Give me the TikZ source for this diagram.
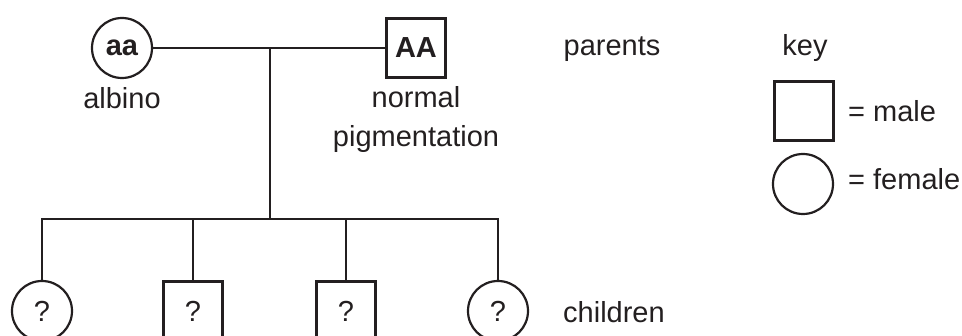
\documentclass[tikz,border=0pt]{standalone}
\usepackage{fontspec}
\setmainfont{Liberation Sans}
\usepackage{xcolor}
\usepackage{tikz}
\usetikzlibrary{positioning}
\definecolor{inkDark}{RGB}{35,31,32}
\tikzset{
  female/.style={circle, draw=inkDark, line width=2.2pt, minimum size=60pt, inner sep=0pt},
  male/.style={rectangle, draw=inkDark, line width=2.2pt, minimum size=59pt, inner sep=0pt},
  label/.style={text=inkDark, inner sep=0pt},
  link/.style={draw=inkDark, line width=2.2pt}
}

\begin{document}
\begin{tikzpicture}[x=1pt, y=-1pt,
          every node/.style={font=\fontsize{29}{35}\selectfont, text=inkDark}]
        \useasboundingbox (0,0) rectangle (962,336);
        % parents
        \node[female] (mum) at (122,48)  {\textbf{aa}};
        \node[male]   (dad) at (416,48)  {\textbf{AA}};
        \node[label, anchor=base] (albino)  at (122,109) {albino};
        \node[label, anchor=base] (normal)  at (416,108) {normal};
        \node[label, anchor=base] (pigment) at (416,147) {pigmentation};
        % children
        \node[female] (c1) at (42,311)  {?};
        \node[male]   (c2) at (193,311) {?};
        \node[male]   (c3) at (346,311) {?};
        \node[female] (c4) at (498,311) {?};
        % generation labels
        \node[label, anchor=base] (parents) at (612,56) {parents};
        \node[label, anchor=base west] (children) at (563,323) {children};
        % key
        \node[label, anchor=base] (key) at (805,56) {key};
        \node[male]   (keyM) at (804,111) {};
        \node[female] (keyF) at (803,184) {};
        \node[label, anchor=base west] (maleTxt)   at (848,122) {= male};
        \node[label, anchor=base west] (femaleTxt) at (848,190) {= female};
        % connectors
        \coordinate (mate) at (270,48);
        \coordinate (sib)  at (270,219);
        \draw[link] (mum) -- (dad);
        \draw[link] (mate) -- (sib);
        \draw[link] (c1.north) |- (sib) -| (c4.north);
        \draw[link] (c2.north) -- (c2.north |- sib);
        \draw[link] (c3.north) -- (c3.north |- sib);
\end{tikzpicture}
\end{document}
